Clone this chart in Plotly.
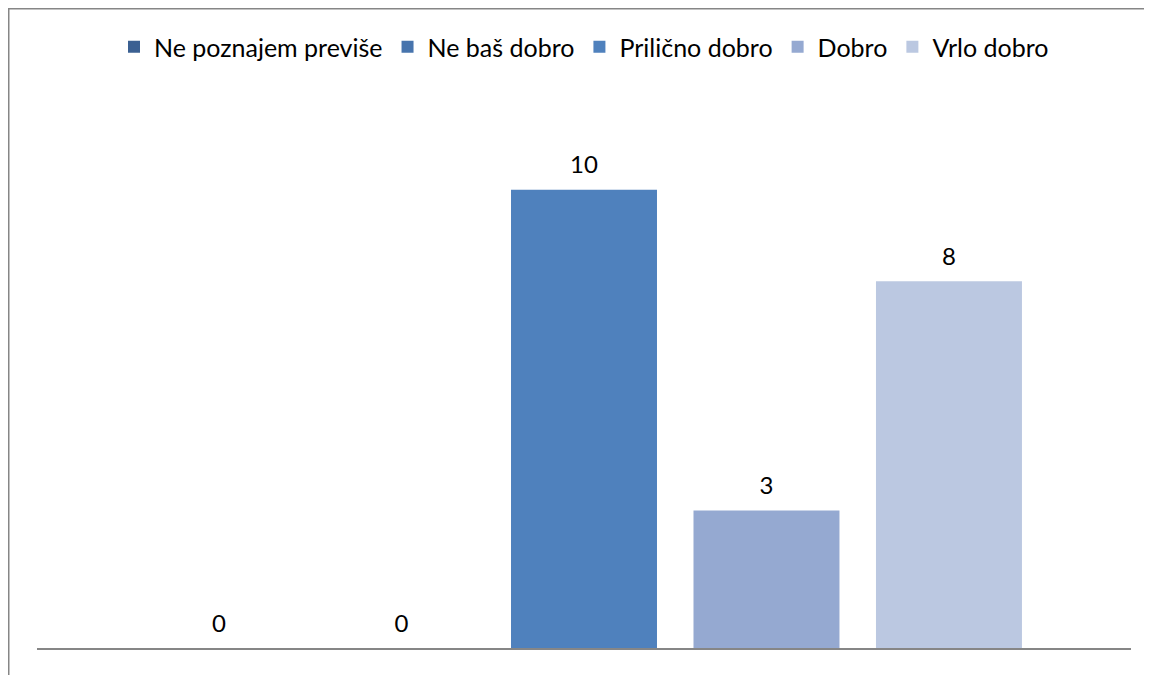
import plotly.graph_objects as go

series_names = ["Ne poznajem previše", "Ne baš dobro", "Prilično dobro", "Dobro", "Vrlo dobro"]
series_values = [0, 0, 10, 3, 8]
series_colors = ["#3B6092", "#4774AD", "#4F81BD", "#95A9D1", "#BBC8E1"]
category = [""]

W, H = 1152, 675
# page has an 8px body offset; margins compensate for it
ml, mr, mt, mb = 29, 29, 90, 35
pw = W - ml - mr
ph = H - mt - mb
FONT = "Lato, Liberation Sans, sans-serif"

fig = go.Figure()
for name, val, col in zip(series_names, series_values, series_colors):
    fig.add_trace(go.Bar(
        x=category, y=[val], name=name, offsetgroup=name,
        marker=dict(color=col, line=dict(width=0)), hoverinfo="skip",
    ))
# data labels, grouped the same way as the bars
for name, val in zip(series_names, series_values):
    fig.add_trace(go.Scatter(
        x=category, y=[val], mode="markers+text", text=[str(val)], textposition="top center",
        offsetgroup=name, orientation="v", showlegend=False, cliponaxis=False, hoverinfo="skip",
        marker=dict(size=15, opacity=0), textfont=dict(size=24, color="#000000", family=FONT),
    ))

fig.update_layout(
    width=W, height=H,
    margin=dict(l=ml, r=mr, t=mt, b=mb),
    paper_bgcolor="white", plot_bgcolor="white",
    barmode="group", bargap=0.166, bargroupgap=0.2,
    scattermode="group", scattergap=0.166,
    font=dict(family=FONT, size=24, color="#000000"),
    showlegend=True,
    legend=dict(orientation="h", x=0.5, xanchor="center", y=(H - mb - 39) / ph, yanchor="middle",
                font=dict(size=25), traceorder="normal", itemwidth=30),
    xaxis=dict(showline=True, linecolor="#868686", linewidth=2, showticklabels=False,
               ticks="", showgrid=False, zeroline=False),
    yaxis=dict(range=[0, 12], visible=False, showgrid=False, zeroline=False),
)

fig.add_shape(type="rect", xref="paper", yref="paper",
              x0=(0.75 - ml) / pw, x1=(W + 10 - ml) / pw,
              y0=-(mb + 10) / ph, y1=(H - mb - 0.75) / ph,
              line=dict(color="#868686", width=1.5), fillcolor="rgba(0,0,0,0)", layer="below")

fig.write_html("out.html")
